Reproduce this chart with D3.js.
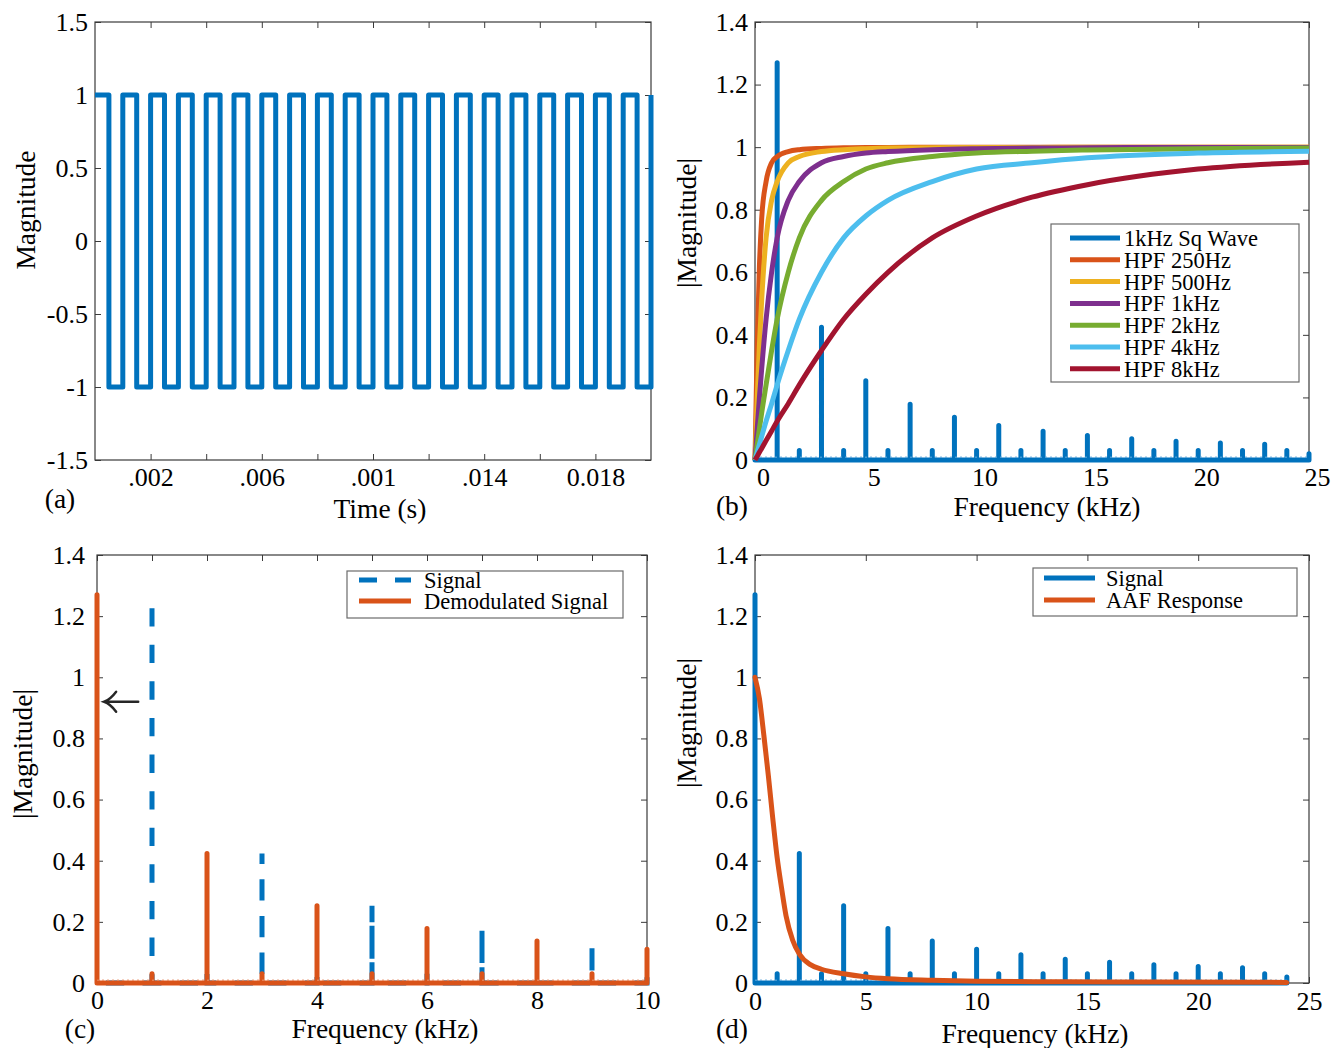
<!DOCTYPE html>
<html>
<head>
<meta charset="utf-8">
<script src="https://cdn.jsdelivr.net/npm/d3@7"></script>
<style>
  body { margin: 0; background: #fff; }
  text { font-family: "Liberation Serif", "Times New Roman", serif; fill: #000; }
</style>
</head>
<body>
<svg id="fig" width="1338" height="1048"></svg>
<script>
// ---------------- data ----------------
// (a) 1 kHz square wave: level held from each edge time until the next
const sqEdgeTimes = [0, 0.0005, 0.001, 0.0015, 0.002, 0.0025, 0.003, 0.0035, 0.004, 0.0045,
  0.005, 0.0055, 0.006, 0.0065, 0.007, 0.0075, 0.008, 0.0085, 0.009, 0.0095,
  0.01, 0.0105, 0.011, 0.0115, 0.012, 0.0125, 0.013, 0.0135, 0.014, 0.0145,
  0.015, 0.0155, 0.016, 0.0165, 0.017, 0.0175, 0.018, 0.0185, 0.019, 0.0195, 0.02];
const sqLevels = [1, -1, 1, -1, 1, -1, 1, -1, 1, -1, 1, -1, 1, -1, 1, -1, 1, -1, 1, -1,
  1, -1, 1, -1, 1, -1, 1, -1, 1, -1, 1, -1, 1, -1, 1, -1, 1, -1, 1, -1, 1];
const timeTickValues = [0.002, 0.004, 0.006, 0.008, 0.010, 0.012, 0.014, 0.016, 0.018];
const timeLabelValues = [0.002, 0.006, 0.010, 0.014, 0.018];
const timeLabels = [".002", ".006", ".001", ".014", "0.018"];
const ampTicks = [-1.5, -1, -0.5, 0, 0.5, 1, 1.5];
const ampLabels = ["-1.5", "-1", "-0.5", "0", "0.5", "1", "1.5"];

// (b) spectrum of the square wave (kHz, |magnitude|)
const sqSpecKHz = [1, 2, 3, 4, 5, 6, 7, 8, 9, 10, 11, 12, 13, 14, 15, 16, 17, 18, 19, 20, 21, 22, 23, 24, 25];
const sqSpecMag = [1.27, 0.03, 0.424, 0.03, 0.253, 0.03, 0.178, 0.03, 0.137, 0.03, 0.110, 0.03,
  0.092, 0.03, 0.078, 0.03, 0.068, 0.03, 0.060, 0.03, 0.054, 0.03, 0.050, 0.03, 0.02];

// (b) first-order high-pass filter magnitude responses
const hpfKHz = [0, 0.1, 0.2, 0.3, 0.5, 0.75, 1, 1.5, 2, 3, 4, 5, 6, 8, 10, 12.5, 15, 20, 25];
const hpf250 = [0, 0.37, 0.62, 0.77, 0.89, 0.95, 0.97, 0.986, 0.992, 0.996, 0.998, 0.999, 0.999, 1, 1, 1, 1, 1, 1];
const hpf500 = [0, 0.2, 0.37, 0.51, 0.71, 0.83, 0.89, 0.95, 0.97, 0.986, 0.992, 0.995, 0.997, 0.998, 0.999, 0.999, 1, 1, 1];
const hpf1k  = [0, 0.1, 0.2, 0.29, 0.45, 0.6, 0.71, 0.83, 0.89, 0.95, 0.97, 0.981, 0.986, 0.992, 0.995, 0.997, 0.998, 0.999, 0.999];
const hpf2k  = [0, 0.05, 0.1, 0.15, 0.24, 0.35, 0.45, 0.6, 0.71, 0.83, 0.89, 0.93, 0.95, 0.97, 0.981, 0.987, 0.991, 0.995, 0.997];
const hpf4k  = [0, 0.025, 0.05, 0.075, 0.124, 0.18, 0.24, 0.35, 0.45, 0.6, 0.71, 0.78, 0.83, 0.89, 0.93, 0.95, 0.966, 0.981, 0.987];
const hpf8k  = [0, 0.012, 0.025, 0.037, 0.062, 0.093, 0.124, 0.18, 0.24, 0.35, 0.45, 0.53, 0.6, 0.71, 0.78, 0.84, 0.88, 0.93, 0.952];

// (c) signal vs. demodulated signal spectra
const sigCKHz = [1, 2, 3, 4, 5, 6, 7, 8, 9, 10];
const sigCMag = [1.256, 0.03, 0.424, 0.03, 0.253, 0.03, 0.178, 0.03, 0.137, 0.03];
const demodKHz = [0, 1, 2, 3, 4, 5, 6, 7, 8, 9, 10];
const demodMag = [1.27, 0.03, 0.424, 0.03, 0.253, 0.03, 0.178, 0.03, 0.137, 0.03, 0.110];

// (d) demodulated spectrum and anti-aliasing filter response
const sigDKHz = [0, 1, 2, 3, 4, 5, 6, 7, 8, 9, 10, 11, 12, 13, 14, 15, 16, 17, 18, 19, 20, 21, 22, 23, 24];
const sigDMag = [1.27, 0.03, 0.424, 0.03, 0.253, 0.03, 0.178, 0.03, 0.137, 0.03, 0.110, 0.03,
  0.092, 0.03, 0.078, 0.03, 0.068, 0.03, 0.060, 0.03, 0.054, 0.03, 0.050, 0.03, 0.02];
const aafKHz = [0, 0.2, 0.4, 0.6, 0.8, 1.0, 1.2, 1.4, 1.7, 2, 2.5, 3, 4, 5, 6, 8, 10, 14, 18, 24];
const aafMag = [1.0, 0.93, 0.81, 0.68, 0.54, 0.41, 0.31, 0.22, 0.14, 0.095, 0.06, 0.045, 0.03, 0.02, 0.014, 0.009, 0.006, 0.004, 0.003, 0.002];

const magTicks = [0, 0.2, 0.4, 0.6, 0.8, 1, 1.2, 1.4];
const magLabels = ["0", "0.2", "0.4", "0.6", "0.8", "1", "1.2", "1.4"];
const khz25Ticks = [0, 5, 10, 15, 20, 25];
const khz25Labels = ["0", "5", "10", "15", "20", "25"];
const khz10Ticks = [0, 1, 2, 3, 4, 5, 6, 7, 8, 9, 10];
const khz10LabelValues = [0, 2, 4, 6, 8, 10];
const khz10Labels = ["0", "2", "4", "6", "8", "10"];

const hpfNames = ["HPF 250Hz", "HPF 500Hz", "HPF 1kHz", "HPF 2kHz", "HPF 4kHz", "HPF 8kHz"];
const hpfSeries = [hpf250, hpf500, hpf1k, hpf2k, hpf4k, hpf8k];

// ---------------- styling ----------------
const C = {
  blue: "#0072BD", orange: "#D95319", yellow: "#EDB120", purple: "#7E2F8E",
  green: "#77AC30", cyan: "#4DBEEE", maroon: "#A2142F", axis: "#3a3a3a"
};
const hpfColors = [C.orange, C.yellow, C.purple, C.green, C.cyan, C.maroon];
const floorLevel = 0.009;
const TICK_FONT = 26, TITLE_FONT = 27.5, LEGEND_FONT = 22.5;
const LW = 5;
const DASH = "18.3 18.3", DASH_PHASE = 27.7;

const svg = d3.select("#fig");

function styleAxis(sel) {
  sel.select(".domain").remove();
  sel.attr("font-family", null).attr("font-size", TICK_FONT);
  sel.selectAll(".tick line").attr("stroke", C.axis).attr("stroke-width", 1);
  sel.selectAll("text").attr("fill", "#000");
}

function panel(cfg) {
  const x = d3.scaleLinear().domain(cfg.xDomain).range([cfg.left, cfg.right]);
  const y = d3.scaleLinear().domain(cfg.yDomain).range([cfg.bottom, cfg.top]);
  const g = svg.append("g");
  const tk = 6;

  g.append("g").attr("transform", `translate(${cfg.left},0)`)
    .call(d3.axisLeft(y).tickValues(cfg.yTicks).tickSize(-tk).tickPadding(cfg.yPad)
      .tickFormat((d, i) => cfg.yLabels[i]))
    .call(styleAxis);
  g.append("g").attr("transform", `translate(${cfg.right},0)`)
    .call(d3.axisRight(y).tickValues(cfg.yTicks).tickSize(-tk).tickFormat(""))
    .call(styleAxis);
  g.append("g").attr("transform", `translate(0,${cfg.top})`)
    .call(d3.axisTop(x).tickValues(cfg.xTicks).tickSize(-tk).tickFormat(""))
    .call(styleAxis);
  g.append("g").attr("transform", `translate(0,${cfg.bottom})`)
    .call(d3.axisBottom(x).tickValues(cfg.xTicks).tickSize(-tk).tickFormat(""))
    .call(styleAxis);
  g.append("g").attr("transform", `translate(0,${cfg.bottom})`)
    .call(d3.axisBottom(x).tickValues(cfg.xLabelValues).tickSize(0).tickPadding(cfg.xPad)
      .tickFormat((d, i) => cfg.xLabels[i]))
    .call(styleAxis)
    .selectAll("text").attr("dx", cfg.xLabelDx || 0);

  g.append("rect")
    .attr("x", cfg.left).attr("y", cfg.top)
    .attr("width", cfg.right - cfg.left).attr("height", cfg.bottom - cfg.top)
    .attr("fill", "none").attr("stroke", C.axis).attr("stroke-width", 1.2);

  // axis titles and panel letter
  g.append("text")
    .attr("transform", `translate(${cfg.yTitleX},${cfg.yTitleY}) rotate(-90)`)
    .attr("text-anchor", "middle").attr("dominant-baseline", "central")
    .attr("font-size", TITLE_FONT).text(cfg.yTitle);
  g.append("text").attr("x", cfg.xTitleX).attr("y", cfg.xTitleY)
    .attr("text-anchor", "middle").attr("font-size", TITLE_FONT).text(cfg.xTitle);
  g.append("text").attr("x", cfg.letterX).attr("y", cfg.letterY)
    .attr("text-anchor", "middle").attr("font-size", TITLE_FONT).text(cfg.letter);

  return { g, x, y };
}

// spike spectrum: baseline with a vertical excursion at every listed frequency
function spectrumPath(x, y, xStart, xEnd, freqs, mags) {
  const pts = [{ f: xStart, v: 0 }];
  freqs.forEach((f, i) => {
    pts.push({ f, v: 0 }, { f, v: mags[i] }, { f, v: 0 });
  });
  pts.push({ f: xEnd, v: 0 });
  return d3.line().x(d => x(d.f)).y(d => y(d.v))(pts);
}

function floorLine(p, xStart, xEnd, color) {
  p.g.append("line")
    .attr("x1", p.x(xStart)).attr("x2", p.x(xEnd))
    .attr("y1", p.y(floorLevel)).attr("y2", p.y(floorLevel))
    .attr("stroke", color).attr("stroke-width", 1.4)
    .attr("stroke-dasharray", "2 3").attr("opacity", 0.75);
}

function legend(g, box, items) {
  g.append("rect").attr("x", box.x).attr("y", box.y).attr("width", box.w).attr("height", box.h)
    .attr("fill", "#fff").attr("stroke", "#6b6b6b").attr("stroke-width", 1.2);
  items.forEach((it, i) => {
    const yy = box.firstY + i * box.step;
    g.append("line").attr("x1", box.lx1).attr("x2", box.lx2).attr("y1", yy).attr("y2", yy)
      .attr("stroke", it.color).attr("stroke-width", LW)
      .attr("stroke-dasharray", it.dash || null);
    g.append("text").attr("x", box.tx).attr("y", yy + 8)
      .attr("font-size", LEGEND_FONT).text(it.label);
  });
}

// ---------------- (a) time-domain square wave ----------------
const pa = panel({
  left: 95, right: 651, top: 22, bottom: 460,
  xDomain: [0, 0.02], yDomain: [-1.5, 1.5],
  yTicks: ampTicks, yLabels: ampLabels, yPad: 7,
  xTicks: timeTickValues, xLabelValues: timeLabelValues, xLabels: timeLabels, xPad: 8,
  yTitle: "Magnitude", yTitleX: 25, yTitleY: 210,
  xTitle: "Time (s)", xTitleX: 380, xTitleY: 518,
  letter: "(a)", letterX: 60, letterY: 508
});
pa.g.append("path")
  .attr("d", d3.line().curve(d3.curveStepAfter)
    .x((d, i) => pa.x(sqEdgeTimes[i])).y(d => pa.y(d))(sqLevels))
  .attr("fill", "none").attr("stroke", C.blue).attr("stroke-width", LW)
  .attr("stroke-linejoin", "round");

// ---------------- (b) spectrum with HPF responses ----------------
const pb = panel({
  left: 755, right: 1309, top: 22, bottom: 460,
  xDomain: [0, 25], yDomain: [0, 1.4],
  yTicks: magTicks, yLabels: magLabels, yPad: 7,
  xTicks: khz25Ticks, xLabelValues: khz25Ticks, xLabels: khz25Labels, xPad: 8, xLabelDx: 8,
  yTitle: "|Magnitude|", yTitleX: 686, yTitleY: 223,
  xTitle: "Frequency (kHz)", xTitleX: 1047, xTitleY: 516,
  letter: "(b)", letterX: 732, letterY: 515
});
pb.g.append("path")
  .attr("d", spectrumPath(pb.x, pb.y, 0, 25, sqSpecKHz, sqSpecMag))
  .attr("fill", "none").attr("stroke", C.blue).attr("stroke-width", LW)
  .attr("stroke-linejoin", "round").attr("stroke-linecap", "round");
floorLine(pb, 0, 25, "#5aa5dc");
hpfSeries.forEach((s, k) => {
  pb.g.append("path")
    .attr("d", d3.line().curve(d3.curveMonotoneX)
      .x((d, i) => pb.x(hpfKHz[i])).y(d => pb.y(d))(s))
    .attr("fill", "none").attr("stroke", hpfColors[k]).attr("stroke-width", LW)
    .attr("stroke-linejoin", "round");
});
legend(pb.g, { x: 1051, y: 224, w: 248, h: 158, firstY: 238, step: 21.8, lx1: 1070, lx2: 1120, tx: 1124 },
  [{ label: "1kHz Sq Wave", color: C.blue }].concat(hpfNames.map((n, k) => ({ label: n, color: hpfColors[k] }))));

// ---------------- (c) signal and demodulated spectra ----------------
const pc = panel({
  left: 97, right: 647, top: 555, bottom: 983,
  xDomain: [0, 10], yDomain: [0, 1.4],
  yTicks: magTicks, yLabels: magLabels, yPad: 12,
  xTicks: khz10Ticks, xLabelValues: khz10LabelValues, xLabels: khz10Labels, xPad: 8,
  yTitle: "|Magnitude|", yTitleX: 22, yTitleY: 754,
  xTitle: "Frequency (kHz)", xTitleX: 385, xTitleY: 1038,
  letter: "(c)", letterX: 80, letterY: 1038
});
// dashed signal drawn as one continuous polyline so the dash pattern runs along it
pc.g.append("path")
  .attr("d", spectrumPath(pc.x, pc.y, 0, 10, sigCKHz, sigCMag))
  .attr("fill", "none").attr("stroke", C.blue).attr("stroke-width", LW)
  .attr("stroke-dasharray", DASH).attr("stroke-dashoffset", DASH_PHASE);
pc.g.append("path")
  .attr("d", spectrumPath(pc.x, pc.y, 0, 10, demodKHz, demodMag))
  .attr("fill", "none").attr("stroke", C.orange).attr("stroke-width", LW)
  .attr("stroke-linejoin", "round").attr("stroke-linecap", "round");
floorLine(pc, 0, 10, "#e88a60");
// annotation arrow pointing at the shifted fundamental
const arrowTip = { f: 0.13, v: 0.92 }, arrowTail = { f: 0.75, v: 0.92 };
{
  const tx = pc.x(arrowTip.f), ty = pc.y(arrowTip.v), ex = pc.x(arrowTail.f);
  pc.g.append("path")
    .attr("d", `M${ex},${ty}L${tx + 1},${ty}M${tx + 12},${ty - 10}Q${tx + 6},${ty - 2} ${tx},${ty}Q${tx + 6},${ty + 2} ${tx + 12},${ty + 10}`)
    .attr("fill", "none").attr("stroke", "#262626").attr("stroke-width", 2.4)
    .attr("stroke-linecap", "round");
}
legend(pc.g, { x: 347, y: 571, w: 276, h: 47, firstY: 580, step: 21, lx1: 359, lx2: 411, tx: 424 },
  [{ label: "Signal", color: C.blue, dash: "18 18" }, { label: "Demodulated Signal", color: C.orange }]);

// ---------------- (d) spectrum with anti-aliasing filter ----------------
const pd = panel({
  left: 755, right: 1309, top: 555, bottom: 983,
  xDomain: [0, 25], yDomain: [0, 1.4],
  yTicks: magTicks, yLabels: magLabels, yPad: 7,
  xTicks: khz25Ticks, xLabelValues: khz25Ticks, xLabels: khz25Labels, xPad: 9,
  yTitle: "|Magnitude|", yTitleX: 686, yTitleY: 723,
  xTitle: "Frequency (kHz)", xTitleX: 1035, xTitleY: 1043,
  letter: "(d)", letterX: 732, letterY: 1038
});
pd.g.append("path")
  .attr("d", spectrumPath(pd.x, pd.y, 0, 24, sigDKHz, sigDMag))
  .attr("fill", "none").attr("stroke", C.blue).attr("stroke-width", LW)
  .attr("stroke-linejoin", "round").attr("stroke-linecap", "round");
floorLine(pd, 0, 24, "#5aa5dc");
pd.g.append("path")
  .attr("d", d3.line().curve(d3.curveMonotoneX)
    .x((d, i) => pd.x(aafKHz[i])).y(d => pd.y(d))(aafMag))
  .attr("fill", "none").attr("stroke", C.orange).attr("stroke-width", LW)
  .attr("stroke-linejoin", "round").attr("stroke-linecap", "round");
legend(pd.g, { x: 1033, y: 568, w: 264, h: 48, firstY: 578, step: 22, lx1: 1044, lx2: 1095, tx: 1106 },
  [{ label: "Signal", color: C.blue }, { label: "AAF Response", color: C.orange }]);
</script>
</body>
</html>
